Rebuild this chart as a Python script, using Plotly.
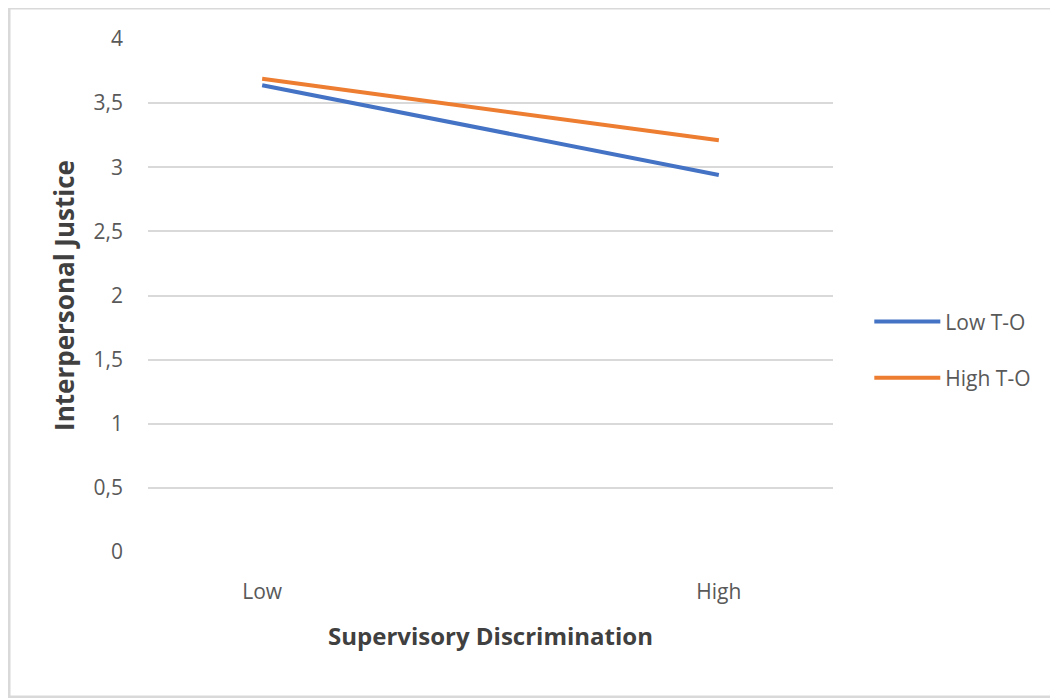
import plotly.graph_objects as go

categories = ["Low", "High"]
low_to = [3.64, 2.94]
high_to = [3.69, 3.21]
series_names = ["Low T-O", "High T-O"]
y_ticks = [0, 0.5, 1, 1.5, 2, 2.5, 3, 3.5, 4]
y_tick_labels = ["0", "0,5", "1", "1,5", "2", "2,5", "3", "3,5", "4"]

x_pos = list(range(len(categories)))

fig = go.Figure()
fig.add_trace(go.Scatter(x=x_pos, y=low_to, mode="lines", name=series_names[0],
                         legendgroup="a",
                         line=dict(color="#4472C4", width=4)))
fig.add_trace(go.Scatter(x=x_pos, y=high_to, mode="lines", name=series_names[1],
                         legendgroup="b",
                         line=dict(color="#ED7D31", width=4)))

font_family = "Open Sans, Liberation Sans, sans-serif"
fig.update_layout(
    width=1050, height=690,
    paper_bgcolor="white", plot_bgcolor="white",
    margin=dict(l=140, r=225, t=31, b=146),
    font=dict(family=font_family, color="#595959", size=16),
    xaxis=dict(range=[-0.25, 1.25], tickvals=x_pos, ticktext=categories,
               showgrid=False, zeroline=False, showline=False, ticks="",
               tickfont=dict(size=21, color="#595959"), ticklabelstandoff=25,
               title=dict(text="<b>Supervisory Discrimination</b>",
                          font=dict(size=24, color="#404040"), standoff=24)),
    yaxis=dict(range=[0, 4], tickvals=y_ticks, ticktext=y_tick_labels,
               showgrid=True, gridcolor="#d9d9d9", gridwidth=1.5,
               zeroline=False, showline=False, ticks="",
               tickfont=dict(size=21, color="#595959"), ticklabelstandoff=24,
               title=dict(text="<b>Interpersonal Justice</b>",
                          font=dict(size=26, color="#404040"), standoff=11)),
    legend=dict(x=1.053, y=0.394, xanchor="left", yanchor="middle",
                font=dict(size=21, color="#595959"), tracegroupgap=26,
                itemwidth=66, bgcolor="rgba(0,0,0,0)"),
    shapes=[dict(type="rect", xref="paper", yref="paper",
                 x0=-0.2029, x1=1.345, y0=-0.2827, y1=1.0604,
                 line=dict(color="#d9d9d9", width=3), fillcolor="rgba(0,0,0,0)")],
)

fig.write_html("out.html")
